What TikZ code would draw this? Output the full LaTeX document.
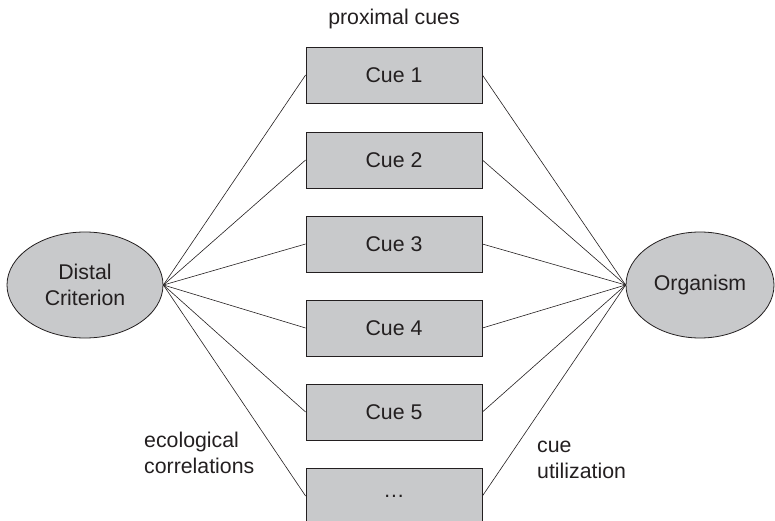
\documentclass[tikz,border=0pt]{standalone}
\usepackage{fontspec}
\setmainfont{Liberation Sans}
\usepackage{tikz}
\usetikzlibrary{shapes.geometric}

\definecolor{cuegray}{RGB}{200,201,203}
\definecolor{inkgray}{RGB}{35,31,32}

\begin{document}
\begin{tikzpicture}[x=1pt, y=-1pt,
    every node/.style={font=\fontsize{21.3}{26}\selectfont, text=inkgray},
    cuebox/.style={draw=inkgray, thick, fill=cuegray, minimum width=176pt, minimum height=56pt, inner sep=0pt},
    endpoint/.style={ellipse, draw=inkgray, thick, fill=cuegray, minimum height=106pt, inner sep=0pt, align=center},
    link/.style={draw=inkgray, semithick}]
        \useasboundingbox (0,0) rectangle (775,521);                        %
        \node [endpoint, minimum width=156pt] (dc) at (85,285)  {Distal\\Criterion};
        \node [endpoint, minimum width=148pt] (org) at (700,285) {Organism};
        \node [cuebox] (c1) at (394,75)  {Cue 1};                          %
        \node [cuebox] (c2) at (394,160) {Cue 2};                          %
        \node [cuebox] (c3) at (394,244) {Cue 3};                          %
        \node [cuebox] (c4) at (394,328) {Cue 4};                          %
        \node [cuebox] (c5) at (394,412) {Cue 5};                          %
        \node [cuebox] (c6) at (394,496) {\ldots};                         %cut by the page
        \draw [link] (dc.east) -- (c1.west);  \draw [link] (c1.east) -- (org.west);
        \draw [link] (dc.east) -- (c2.west);  \draw [link] (c2.east) -- (org.west);
        \draw [link] (dc.east) -- (c3.west);  \draw [link] (c3.east) -- (org.west);
        \draw [link] (dc.east) -- (c4.west);  \draw [link] (c4.east) -- (org.west);
        \draw [link] (dc.east) -- (c5.west);  \draw [link] (c5.east) -- (org.west);
        \draw [link] (dc.east) -- (c6.west);  \draw [link] (c6.east) -- (org.west);
        \node [anchor=base] (prox) at (394,25) {proximal cues};              %
        \node [anchor=base west, align=left, inner sep=0pt] (eco) at (144,473) {ecological\\correlations};
        \node [anchor=base west, align=left, inner sep=0pt] (util) at (537,478) {cue\\utilization};
       \end{tikzpicture}
\end{document}
